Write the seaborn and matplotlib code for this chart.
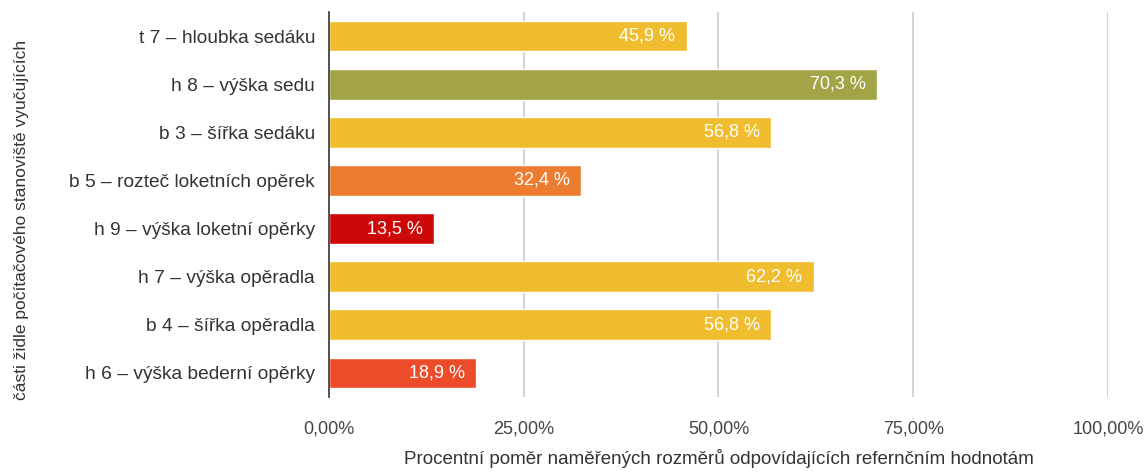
import matplotlib
matplotlib.use("Agg")
import matplotlib.pyplot as plt
import seaborn as sns
import pandas as pd
from matplotlib.ticker import FixedLocator

parts = [
    "t 7 – hloubka sedáku",
    "h 8 – výška sedu",
    "b 3 – šířka sedáku",
    "b 5 – rozteč loketních opěrek",
    "h 9 – výška loketní opěrky",
    "h 7 – výška opěradla",
    "b 4 – šířka opěradla",
    "h 6 – výška bederní opěrky",
]
shares = [45.9, 70.3, 56.8, 32.4, 13.5, 62.2, 56.8, 18.9]
bar_colors = ["#EFBD2E", "#A2A445", "#EFBD2E", "#EC7D30", "#CC0808",
              "#EFBD2E", "#EFBD2E", "#EC4C2A"]
x_ticks = [0, 25, 50, 75, 100]
x_tick_labels = ["0,00%", "25,00%", "50,00%", "75,00%", "100,00%"]

df = pd.DataFrame({"part": parts, "share": shares})

sns.set_theme(style="white")
plt.rcParams["font.family"] = ["Liberation Sans", "DejaVu Sans"]

fig = plt.figure(figsize=(11.46, 4.73), dpi=100)
ax = fig.add_axes([329 / 1146, 1 - 397 / 473, (1108 - 329) / 1146, (397 - 12) / 473])

sns.barplot(data=df, x="share", y="part", hue="part", palette=bar_colors,
            orient="h", width=0.64, legend=False, ax=ax, saturation=1)

ax.set_xlim(0, 100)
ax.set_ylim(len(parts) - 0.5, -0.5)
ax.xaxis.set_major_locator(FixedLocator(x_ticks))
ax.set_xticklabels(x_tick_labels, fontsize=13, color="#444444")
ax.tick_params(axis="x", length=0, pad=17)
ax.tick_params(axis="y", length=0, pad=10, labelsize=13.8, labelcolor="#333333")

for t in x_ticks[1:]:
    ax.axvline(t, color="#CCCCCC", lw=1.2, zorder=0)

for side in ["top", "right", "bottom"]:
    ax.spines[side].set_visible(False)
ax.spines["left"].set_color("#333333")
ax.spines["left"].set_linewidth(1.2)
ax.spines["left"].set_zorder(5)

for container in ax.containers:
    labels = [f"{v:.1f} %".replace(".", ",") for v in container.datavalues]
    ax.bar_label(container, labels=labels, padding=-8, color="white",
                 fontsize=13)
for txt in ax.texts:
    txt.set_horizontalalignment("right")

ax.set_xlabel("Procentní poměr naměřených rozměrů odpovídajících refernčním hodnotám",
              fontsize=13.5, color="#333333")
ax.xaxis.set_label_coords(0.5, -(459 - 397) / 385)
ax.xaxis.label.set_verticalalignment("center")
ax.set_ylabel("části židle počítačového stanoviště vyučujících",
              fontsize=12.5, color="#333333")
ax.yaxis.set_label_coords(-308 / 779, 0.46)
ax.yaxis.label.set_verticalalignment("center")

fig.savefig("out.png", dpi=100, facecolor="white")
